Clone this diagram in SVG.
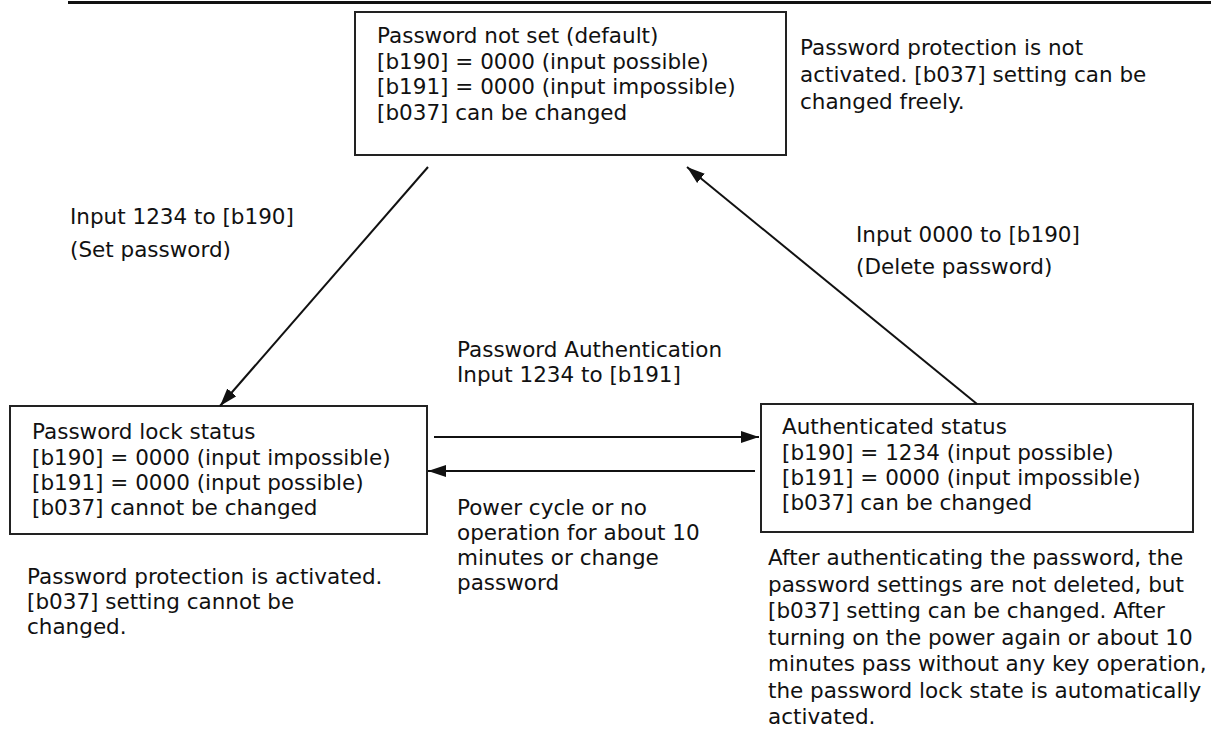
<svg xmlns="http://www.w3.org/2000/svg" width="1211" height="740" viewBox="0 0 1211 740">
<style>
text{font-family:"DejaVu Sans","Noto Sans",sans-serif;font-size:21.5px;fill:#111}
.box{fill:#fff;stroke:#222;stroke-width:2}
.con{stroke:#111;stroke-width:2;fill:none}
</style>
<defs>
<marker id="ah" markerUnits="userSpaceOnUse" markerWidth="20" markerHeight="14" refX="18" refY="7" orient="auto">
<path d="M0,1 L18,7 L0,13 z" fill="#111"/>
</marker>
</defs>
<rect width="1211" height="740" fill="#fff"/>
<line x1="68" y1="2.5" x2="1211" y2="2.5" stroke="#111" stroke-width="3"/>

<g id="node-not-set">
<rect class="box" x="355" y="12" width="431" height="143"/>
<text x="377" y="43">Password not set (default)</text>
<text x="377" y="69">[b190] = 0000 (input possible)</text>
<text x="377" y="94">[b191] = 0000 (input impossible)</text>
<text x="377" y="120">[b037] can be changed</text>
</g>
<g id="note-not-set">
<text x="800" y="55">Password protection is not</text>
<text x="800" y="82">activated. [b037] setting can be</text>
<text x="800" y="109">changed freely.</text>
</g>

<g id="node-lock">
<rect class="box" x="10" y="406" width="417" height="128"/>
<text x="32" y="439">Password lock status</text>
<text x="32" y="465">[b190] = 0000 (input impossible)</text>
<text x="32" y="490">[b191] = 0000 (input possible)</text>
<text x="32" y="515">[b037] cannot be changed</text>
</g>
<g id="note-lock">
<text x="27" y="584">Password protection is activated.</text>
<text x="27" y="609">[b037] setting cannot be</text>
<text x="27" y="634">changed.</text>
</g>

<g id="node-auth">
<rect class="box" x="761" y="404" width="432" height="128"/>
<text x="782" y="434">Authenticated status</text>
<text x="782" y="460">[b190] = 1234 (input possible)</text>
<text x="782" y="485">[b191] = 0000 (input impossible)</text>
<text x="782" y="510">[b037] can be changed</text>
</g>
<g id="note-auth">
<text x="768" y="565">After authenticating the password, the</text>
<text x="768" y="592">password settings are not deleted, but</text>
<text x="768" y="618">[b037] setting can be changed. After</text>
<text x="768" y="645">turning on the power again or about 10</text>
<text x="768" y="671">minutes pass without any key operation,</text>
<text x="768" y="698">the password lock state is automatically</text>
<text x="768" y="724">activated.</text>
</g>

<g id="connectors">
<line class="con" x1="428" y1="167" x2="220" y2="406" marker-end="url(#ah)"/>
<line class="con" x1="977" y1="404" x2="687" y2="167" marker-end="url(#ah)"/>
<line class="con" x1="434" y1="437" x2="759" y2="437" marker-end="url(#ah)"/>
<line class="con" x1="755" y1="471" x2="428" y2="471" marker-end="url(#ah)"/>
<text x="70" y="224">Input 1234 to [b190]</text>
<text x="70" y="257">(Set password)</text>
<text x="856" y="242">Input 0000 to [b190]</text>
<text x="856" y="274">(Delete password)</text>
<text x="457" y="357">Password Authentication</text>
<text x="457" y="382">Input 1234 to [b191]</text>
<text x="457" y="515">Power cycle or no</text>
<text x="457" y="540">operation for about 10</text>
<text x="457" y="565">minutes or change</text>
<text x="457" y="590">password</text>
</g>
</svg>
